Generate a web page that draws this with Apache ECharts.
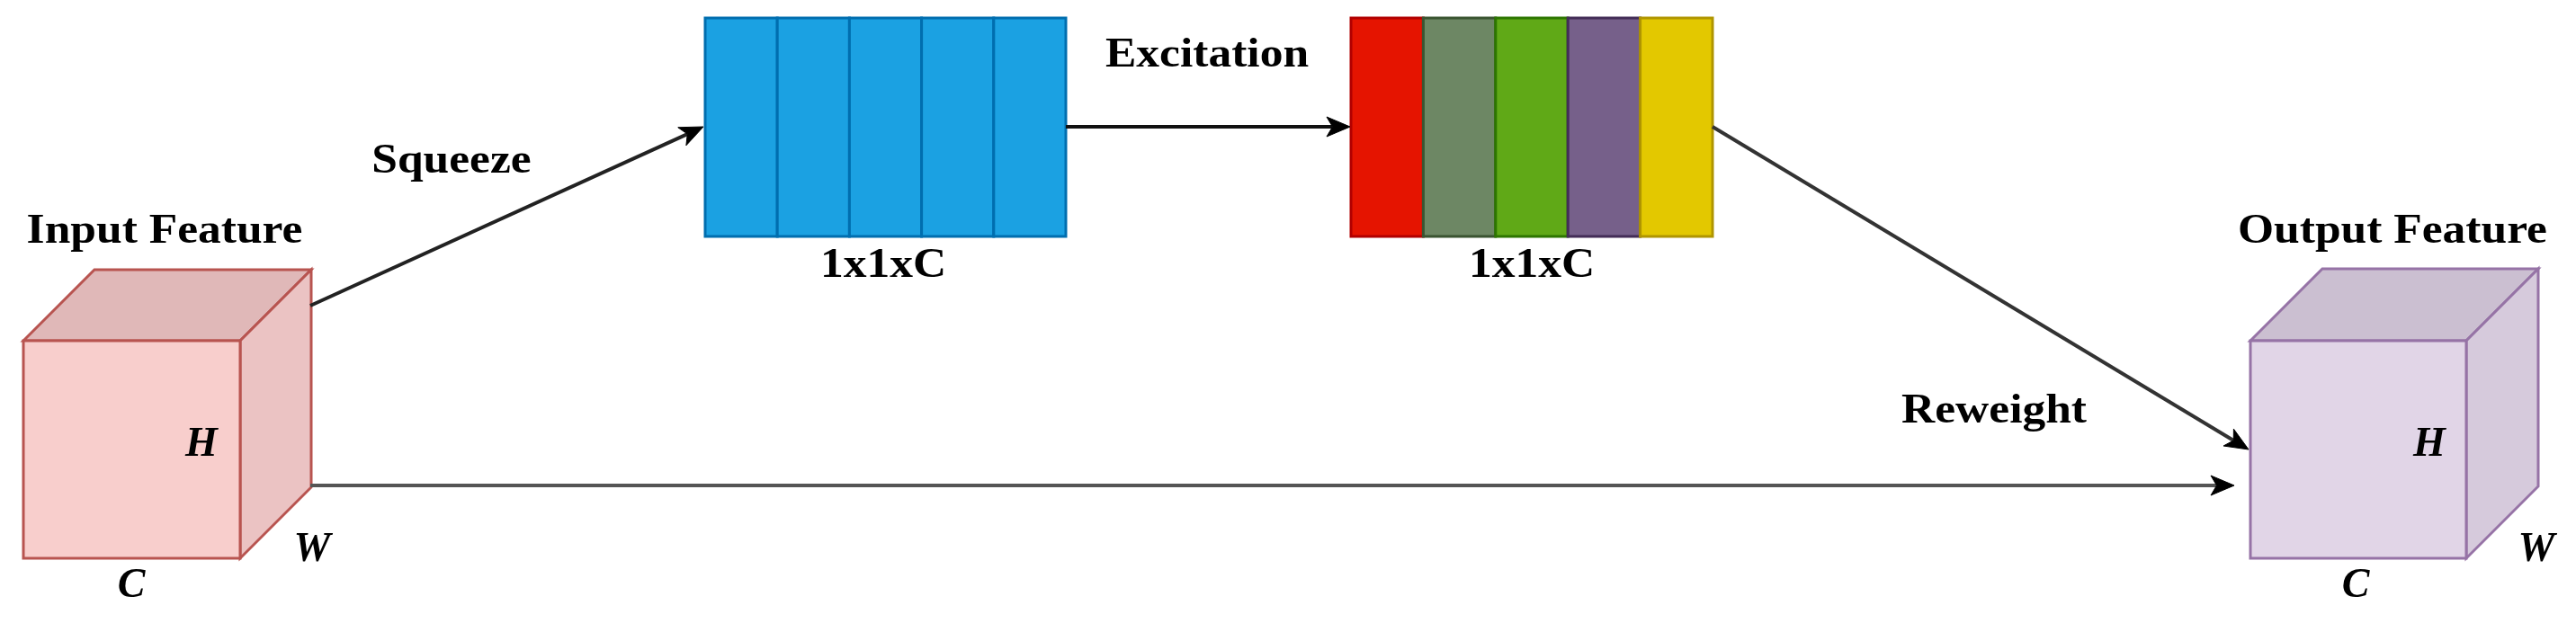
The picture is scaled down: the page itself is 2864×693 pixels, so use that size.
<!DOCTYPE html>
<html><head><meta charset="utf-8">
<script src="https://cdn.jsdelivr.net/npm/echarts@6/dist/echarts.min.js"></script>
<style>html,body{margin:0;padding:0;background:#fff}#c{width:2864px;height:693px}</style>
</head><body><div id="c"></div>
<script>
// cubes: [frontX0, frontY0, frontX1, frontY1, depth, fill, topFill, sideFill, stroke]
const cubes = [
  [26, 379, 267, 621, 79, '#f8cecc', '#e0b8b8', '#ebc3c3', '#b85450'],
  [2502, 379, 2742, 621, 80, '#e1d5e7', '#cbbfd1', '#d6cadc', '#9673a6']
];
// channel blocks: [x0, y0, cellWidth, height, fill, stroke]
const blueCells = [
  [784, 20, 80.2, 243, '#1ba1e2', '#006eaf'],
  [864.2, 20, 80.2, 243, '#1ba1e2', '#006eaf'],
  [944.4, 20, 80.2, 243, '#1ba1e2', '#006eaf'],
  [1024.6, 20, 80.2, 243, '#1ba1e2', '#006eaf'],
  [1104.8, 20, 80.2, 243, '#1ba1e2', '#006eaf']
];
const colorCells = [
  [1502, 20, 80.4, 243, '#e51400', '#b20000'],
  [1582.4, 20, 80.4, 243, '#6d8764', '#3a5431'],
  [1662.8, 20, 80.4, 243, '#60a917', '#2d7600'],
  [1743.2, 20, 80.4, 243, '#76608a', '#432d57'],
  [1823.6, 20, 80.4, 243, '#e3c800', '#b09500']
];
// arrows: [x0, y0, x1, y1, color]
const arrows = [
  [345, 340, 782, 141, '#222'],
  [1185, 141, 1501, 141, '#111'],
  [1904, 141, 2500, 500, '#333'],
  [345, 540, 2484, 540, '#555']
];
// labels: [text, x, y, italic]
const labels = [
  ['Input Feature', 183, 258, 0],
  ['Output Feature', 2660, 258, 0],
  ['Squeeze', 502, 180, 0],
  ['Excitation', 1342, 62, 0],
  ['1x1xC', 982, 296, 0],
  ['1x1xC', 1703, 296, 0],
  ['Reweight', 2217, 458, 0],
  ['H', 224, 495, 1], ['W', 347, 612, 1], ['C', 146, 652, 1],
  ['H', 2701, 495, 1], ['W', 2820, 612, 1], ['C', 2619, 652, 1]
];

const chart = echarts.init(document.getElementById('c'), null, {renderer: 'canvas'});
function P(api, x, y) { return api.coord([x, y]); }
chart.setOption({
  animation: false,
  grid: {left: 0, right: 0, top: 0, bottom: 0},
  xAxis: {type: 'value', min: 0, max: 2864, show: false},
  yAxis: {type: 'value', min: 0, max: 693, inverse: true, show: false},
  series: [
    {
      type: 'custom', coordinateSystem: 'cartesian2d', data: cubes,
      renderItem(params, api) {
        const d = cubes[params.dataIndex];
        const [x0, y0, x1, y1, k] = d;
        const pt = (x, y) => P(api, x, y);
        const st = {stroke: d[8], lineWidth: 3};
        return {type: 'group', children: [
          {type: 'polygon', shape: {points: [pt(x0, y0), pt(x0 + k, y0 - k), pt(x1 + k, y0 - k), pt(x1, y0)]}, style: Object.assign({fill: d[6]}, st)},
          {type: 'polygon', shape: {points: [pt(x1, y0), pt(x1 + k, y0 - k), pt(x1 + k, y1 - k), pt(x1, y1)]}, style: Object.assign({fill: d[7]}, st)},
          {type: 'polygon', shape: {points: [pt(x0, y0), pt(x1, y0), pt(x1, y1), pt(x0, y1)]}, style: Object.assign({fill: d[5]}, st)}
        ]};
      }
    },
    ...[blueCells, colorCells].map(cells => ({
      type: 'custom', coordinateSystem: 'cartesian2d', data: cells,
      renderItem(params, api) {
        const d = cells[params.dataIndex];
        const a = P(api, d[0], d[1]), b = P(api, d[0] + d[2], d[1] + d[3]);
        return {type: 'rect', shape: {x: a[0], y: a[1], width: b[0] - a[0], height: b[1] - a[1]},
          style: {fill: d[4], stroke: d[5], lineWidth: 3}};
      }
    })),
    {
      type: 'custom', coordinateSystem: 'cartesian2d', data: arrows,
      renderItem(params, api) {
        const d = arrows[params.dataIndex];
        const a = P(api, d[0], d[1]), b = P(api, d[2], d[3]);
        const ang = Math.atan2(b[1] - a[1], b[0] - a[0]);
        const L = 26, W = 11;
        const bx = b[0] - L * Math.cos(ang), by = b[1] - L * Math.sin(ang);
        const nx = -Math.sin(ang) * W, ny = Math.cos(ang) * W;
        const back = [b[0] - L * 0.75 * Math.cos(ang), b[1] - L * 0.75 * Math.sin(ang)];
        return {type: 'group', children: [
          {type: 'line', shape: {x1: a[0], y1: a[1], x2: back[0], y2: back[1]}, style: {stroke: d[4], lineWidth: 4}},
          {type: 'polygon', shape: {points: [b, [bx + nx, by + ny], back, [bx - nx, by - ny]]}, style: {fill: '#000', stroke: '#000', lineWidth: 1}}
        ]};
      }
    },
    {
      type: 'custom', coordinateSystem: 'cartesian2d', data: labels,
      renderItem(params, api) {
        const d = labels[params.dataIndex];
        const p = P(api, d[1], d[2]);
        return {type: 'text', x: p[0], y: p[1], scaleX: d[3] ? 1 : 1.12,
          style: {text: d[0], x: 0, y: 0, align: 'center', verticalAlign: 'middle', fill: '#000',
            font: (d[3] ? 'italic bold 46px' : 'bold 46px') + ' "Liberation Serif", "DejaVu Serif", serif'}};
      }
    }
  ]
});
</script></body></html>
